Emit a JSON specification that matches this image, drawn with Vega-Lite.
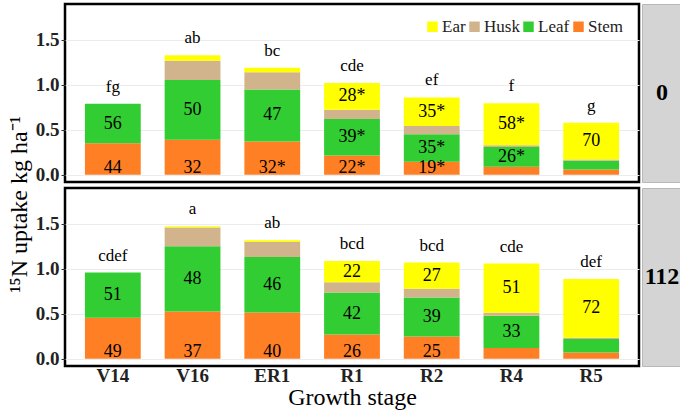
{
  "$schema": "https://vega.github.io/schema/vega-lite/v6.json",
  "padding": {"left": 5, "top": 2, "right": 0, "bottom": 0},
  "config": {
    "font": "Liberation Serif",
    "view": {"stroke": "black", "strokeWidth": 2.5},
    "axis": {"labelFont": "Liberation Serif", "titleFont": "Liberation Serif"},
    "legend": {"labelFont": "Liberation Serif"}
  },
  "datasets": {
    "uptake": [
      {"N": "0", "stage": "V14", "part": "Stem", "uptake": 0.35, "label": "44", "letter": "fg"},
      {"N": "0", "stage": "V14", "part": "Leaf", "uptake": 0.44, "label": "56", "letter": "fg"},
      {"N": "0", "stage": "V16", "part": "Stem", "uptake": 0.39, "label": "32", "letter": "ab"},
      {"N": "0", "stage": "V16", "part": "Leaf", "uptake": 0.665, "label": "50", "letter": "ab"},
      {"N": "0", "stage": "V16", "part": "Husk", "uptake": 0.214, "label": "", "letter": "ab"},
      {"N": "0", "stage": "V16", "part": "Ear", "uptake": 0.06, "label": "", "letter": "ab"},
      {"N": "0", "stage": "ER1", "part": "Stem", "uptake": 0.37, "label": "32*", "letter": "bc"},
      {"N": "0", "stage": "ER1", "part": "Leaf", "uptake": 0.58, "label": "47", "letter": "bc"},
      {"N": "0", "stage": "ER1", "part": "Husk", "uptake": 0.19, "label": "", "letter": "bc"},
      {"N": "0", "stage": "ER1", "part": "Ear", "uptake": 0.05, "label": "", "letter": "bc"},
      {"N": "0", "stage": "R1", "part": "Stem", "uptake": 0.215, "label": "22*", "letter": "cde"},
      {"N": "0", "stage": "R1", "part": "Leaf", "uptake": 0.405, "label": "39*", "letter": "cde"},
      {"N": "0", "stage": "R1", "part": "Husk", "uptake": 0.105, "label": "", "letter": "cde"},
      {"N": "0", "stage": "R1", "part": "Ear", "uptake": 0.295, "label": "28*", "letter": "cde"},
      {"N": "0", "stage": "R2", "part": "Stem", "uptake": 0.144, "label": "19*", "letter": "ef"},
      {"N": "0", "stage": "R2", "part": "Leaf", "uptake": 0.308, "label": "35*", "letter": "ef"},
      {"N": "0", "stage": "R2", "part": "Husk", "uptake": 0.092, "label": "", "letter": "ef"},
      {"N": "0", "stage": "R2", "part": "Ear", "uptake": 0.316, "label": "35*", "letter": "ef"},
      {"N": "0", "stage": "R4", "part": "Stem", "uptake": 0.09, "label": "", "letter": "f"},
      {"N": "0", "stage": "R4", "part": "Leaf", "uptake": 0.22, "label": "26*", "letter": "f"},
      {"N": "0", "stage": "R4", "part": "Husk", "uptake": 0.02, "label": "", "letter": "f"},
      {"N": "0", "stage": "R4", "part": "Ear", "uptake": 0.467, "label": "58*", "letter": "f"},
      {"N": "0", "stage": "R5", "part": "Stem", "uptake": 0.06, "label": "", "letter": "g"},
      {"N": "0", "stage": "R5", "part": "Leaf", "uptake": 0.095, "label": "", "letter": "g"},
      {"N": "0", "stage": "R5", "part": "Husk", "uptake": 0.015, "label": "", "letter": "g"},
      {"N": "0", "stage": "R5", "part": "Ear", "uptake": 0.41, "label": "70", "letter": "g"},
      {"N": "112", "stage": "V14", "part": "Stem", "uptake": 0.456, "label": "49", "letter": "cdef"},
      {"N": "112", "stage": "V14", "part": "Leaf", "uptake": 0.504, "label": "51", "letter": "cdef"},
      {"N": "112", "stage": "V16", "part": "Stem", "uptake": 0.526, "label": "37", "letter": "a"},
      {"N": "112", "stage": "V16", "part": "Leaf", "uptake": 0.726, "label": "48", "letter": "a"},
      {"N": "112", "stage": "V16", "part": "Husk", "uptake": 0.208, "label": "", "letter": "a"},
      {"N": "112", "stage": "V16", "part": "Ear", "uptake": 0.014, "label": "", "letter": "a"},
      {"N": "112", "stage": "ER1", "part": "Stem", "uptake": 0.515, "label": "40", "letter": "ab"},
      {"N": "112", "stage": "ER1", "part": "Leaf", "uptake": 0.618, "label": "46", "letter": "ab"},
      {"N": "112", "stage": "ER1", "part": "Husk", "uptake": 0.167, "label": "", "letter": "ab"},
      {"N": "112", "stage": "ER1", "part": "Ear", "uptake": 0.019, "label": "", "letter": "ab"},
      {"N": "112", "stage": "R1", "part": "Stem", "uptake": 0.27, "label": "26", "letter": "bcd"},
      {"N": "112", "stage": "R1", "part": "Leaf", "uptake": 0.467, "label": "42", "letter": "bcd"},
      {"N": "112", "stage": "R1", "part": "Husk", "uptake": 0.115, "label": "", "letter": "bcd"},
      {"N": "112", "stage": "R1", "part": "Ear", "uptake": 0.237, "label": "22", "letter": "bcd"},
      {"N": "112", "stage": "R2", "part": "Stem", "uptake": 0.248, "label": "25", "letter": "bcd"},
      {"N": "112", "stage": "R2", "part": "Leaf", "uptake": 0.433, "label": "39", "letter": "bcd"},
      {"N": "112", "stage": "R2", "part": "Husk", "uptake": 0.097, "label": "", "letter": "bcd"},
      {"N": "112", "stage": "R2", "part": "Ear", "uptake": 0.292, "label": "27", "letter": "bcd"},
      {"N": "112", "stage": "R4", "part": "Stem", "uptake": 0.119, "label": "", "letter": "cde"},
      {"N": "112", "stage": "R4", "part": "Leaf", "uptake": 0.359, "label": "33", "letter": "cde"},
      {"N": "112", "stage": "R4", "part": "Husk", "uptake": 0.033, "label": "", "letter": "cde"},
      {"N": "112", "stage": "R4", "part": "Ear", "uptake": 0.548, "label": "51", "letter": "cde"},
      {"N": "112", "stage": "R5", "part": "Stem", "uptake": 0.07, "label": "", "letter": "def"},
      {"N": "112", "stage": "R5", "part": "Leaf", "uptake": 0.149, "label": "", "letter": "def"},
      {"N": "112", "stage": "R5", "part": "Husk", "uptake": 0.014, "label": "", "letter": "def"},
      {"N": "112", "stage": "R5", "part": "Ear", "uptake": 0.656, "label": "72", "letter": "def"}
    ]
  },
  "columns": 2,
  "bounds": "flush",
  "spacing": {"row": 6, "column": 3},
  "resolve": {"legend": {"color": "independent"}},
  "concat": [
    {
      "width": 574,
      "height": 178,
      "data": {"name": "uptake"},
      "transform": [{"filter": "datum.N == '0'"}],
      "encoding": {
        "x": {"field": "stage", "type": "nominal", "sort": ["V14", "V16", "ER1", "R1", "R2", "R4", "R5"],
              "scale": {"paddingInner": 0.3, "paddingOuter": 0.25}, "axis": null}
      },
      "layer": [
        {
          "mark": {"type": "bar", "width": {"band": 1}},
          "encoding": {
            "y": {"field": "uptake", "aggregate": "sum", "type": "quantitative", "stack": "zero", "title": " ",
                  "scale": {"domain": [-0.08, 1.9], "nice": false, "zero": false},
                  "axis": {"values": [0, 0.5, 1, 1.5], "format": ".1f", "labelFontSize": 19,
                           "labelFontWeight": "bold", "labelColor": "#222", "domain": false, "tickColor": "#333",
                           "tickSize": 4, "labelPadding": 2, "gridColor": "#ececec", "titleFontSize": 24, "titlePadding": 4}},
            "color": {"field": "part", "type": "nominal",
                      "scale": {"domain": ["Ear", "Husk", "Leaf", "Stem"], "range": ["#FFFF00", "#D2B48C", "#32CD32", "#FF7F24"]},
                      "legend": {"title": null, "orient": "none", "legendX": 359, "legendY": 14, "direction": "horizontal",
                                 "symbolType": "square", "symbolSize": 110, "symbolStrokeWidth": 0, "symbolOpacity": 1,
                                 "labelFontSize": 17, "labelColor": "#222", "labelOffset": 1, "columnPadding": 0, "padding": 0}},
            "order": {"field": "part", "sort": "descending"}
          }
        },
        {
          "transform": [{"filter": "datum.part == 'Stem' && datum.label != ''"}],
          "mark": {"type": "text", "font": "Liberation Serif", "fontSize": 18, "baseline": "alphabetic", "dy": -2},
          "encoding": {
            "y": {"datum": 0, "type": "quantitative", "title": " "},
            "text": {"field": "label"}
          }
        },
        {
          "transform": [
            {"stack": "uptake", "groupby": ["stage"], "sort": [{"field": "part", "order": "descending"}], "as": ["lo", "hi"]},
            {"filter": "datum.part != 'Stem' && datum.label != ''"},
            {"calculate": "(datum.lo + datum.hi) / 2", "as": "mid"}
          ],
          "mark": {"type": "text", "font": "Liberation Serif", "fontSize": 18, "baseline": "middle"},
          "encoding": {
            "y": {"field": "mid", "type": "quantitative", "title": " "},
            "text": {"field": "label"}
          }
        },
        {
          "transform": [{"aggregate": [{"op": "sum", "field": "uptake", "as": "total"}], "groupby": ["stage", "letter"]}],
          "mark": {"type": "text", "font": "Liberation Serif", "fontSize": 17, "baseline": "alphabetic", "dy": -12},
          "encoding": {
            "y": {"field": "total", "type": "quantitative", "title": " "},
            "text": {"field": "letter"}
          }
        }
      ]
    },
    {
      "width": 40,
      "height": 178,
      "view": {"fill": "#d4d4d4", "stroke": "#b8b8b8", "strokeWidth": 1},
      "data": {"values": [{"N": "0"}]},
      "mark": {"type": "text", "font": "Liberation Serif", "fontSize": 24, "fontWeight": "bold", "baseline": "middle"},
      "encoding": {"text": {"field": "N"}}
    },
    {
      "width": 574,
      "height": 178,
      "data": {"name": "uptake"},
      "transform": [{"filter": "datum.N == '112'"}],
      "encoding": {
        "x": {"field": "stage", "type": "nominal", "sort": ["V14", "V16", "ER1", "R1", "R2", "R4", "R5"],
              "scale": {"paddingInner": 0.3, "paddingOuter": 0.25},
              "axis": {"title": "Growth stage", "titleFontSize": 24, "titleFontWeight": "normal", "titleColor": "black",
                       "titlePadding": 0, "labelAngle": 0, "labelFontSize": 19, "labelFontWeight": "bold",
                       "labelColor": "#222", "domain": false, "ticks": false, "labelPadding": 0}}
      },
      "layer": [
        {
          "mark": {"type": "bar", "width": {"band": 1}},
          "encoding": {
            "y": {"field": "uptake", "aggregate": "sum", "type": "quantitative", "stack": "zero", "title": "¹⁵N uptake kg ha⁻¹",
                  "scale": {"domain": [-0.08, 1.9], "nice": false, "zero": false},
                  "axis": {"titleFontSize": 24, "titleFontWeight": "normal",
                           "titleColor": "black", "titleY": 16, "titlePadding": 4,
                           "values": [0, 0.5, 1, 1.5], "format": ".1f", "labelFontSize": 19,
                           "labelFontWeight": "bold", "labelColor": "#222", "domain": false, "tickColor": "#333",
                           "tickSize": 4, "labelPadding": 2, "gridColor": "#ececec"}},
            "color": {"field": "part", "type": "nominal",
                      "scale": {"domain": ["Ear", "Husk", "Leaf", "Stem"], "range": ["#FFFF00", "#D2B48C", "#32CD32", "#FF7F24"]},
                      "legend": null},
            "order": {"field": "part", "sort": "descending"}
          }
        },
        {
          "transform": [{"filter": "datum.part == 'Stem' && datum.label != ''"}],
          "mark": {"type": "text", "font": "Liberation Serif", "fontSize": 18, "baseline": "alphabetic", "dy": -2},
          "encoding": {
            "y": {"datum": 0, "type": "quantitative", "title": "¹⁵N uptake kg ha⁻¹"},
            "text": {"field": "label"}
          }
        },
        {
          "transform": [
            {"stack": "uptake", "groupby": ["stage"], "sort": [{"field": "part", "order": "descending"}], "as": ["lo", "hi"]},
            {"filter": "datum.part != 'Stem' && datum.label != ''"},
            {"calculate": "(datum.lo + datum.hi) / 2", "as": "mid"}
          ],
          "mark": {"type": "text", "font": "Liberation Serif", "fontSize": 18, "baseline": "middle"},
          "encoding": {
            "y": {"field": "mid", "type": "quantitative", "title": "¹⁵N uptake kg ha⁻¹"},
            "text": {"field": "label"}
          }
        },
        {
          "transform": [{"aggregate": [{"op": "sum", "field": "uptake", "as": "total"}], "groupby": ["stage", "letter"]}],
          "mark": {"type": "text", "font": "Liberation Serif", "fontSize": 17, "baseline": "alphabetic", "dy": -12},
          "encoding": {
            "y": {"field": "total", "type": "quantitative", "title": "¹⁵N uptake kg ha⁻¹"},
            "text": {"field": "letter"}
          }
        }
      ]
    },
    {
      "width": 40,
      "height": 178,
      "view": {"fill": "#d4d4d4", "stroke": "#b8b8b8", "strokeWidth": 1},
      "data": {"values": [{"N": "112"}]},
      "mark": {"type": "text", "font": "Liberation Serif", "fontSize": 24, "fontWeight": "bold", "baseline": "middle"},
      "encoding": {"text": {"field": "N"}}
    }
  ]
}
